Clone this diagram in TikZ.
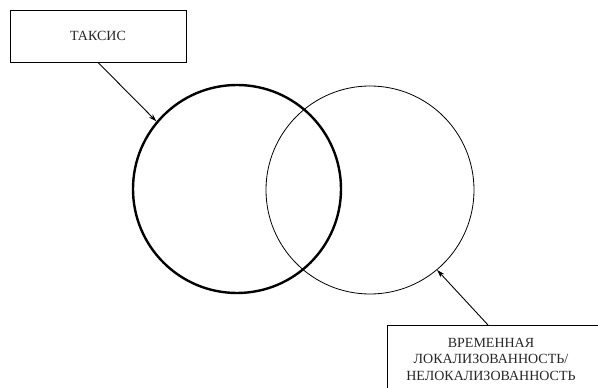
\documentclass[tikz,border=0pt]{standalone}
\usepackage{fontspec}
\setmainfont{Liberation Serif}
\usepackage{tikz}
\usetikzlibrary{positioning, arrows.meta}

\begin{document}
\begin{tikzpicture}[
    x=1pt, y=1pt,
    >={Stealth[length=8pt, width=5pt]},
    ptr/.style={->, line width=0.9pt},
    boxline/.style={draw, line width=0.9pt},
    labeltext/.style={align=center, text=black!85, font=\fontsize{14}{16.5}\selectfont},
    set/.style={circle, draw, minimum size=208pt, inner sep=0pt}
]

% Page frame
\useasboundingbox (0, 0) rectangle (598, 388);

% The two sets
\node[set, line width=2.4pt] (taxis) at (237, 199) {};
\node[set, line width=0.8pt] (loc) at (370, 198) {};

% Label boxes
\node[labeltext, boxline, minimum width=176pt, minimum height=52pt] (taxislabel) at (98, 352) {ТАКСИС};
\node[labeltext] (loclabel) at (491, 29)
    {ВРЕМЕННАЯ\\ЛОКАЛИЗОВАННОСТЬ/\\НЕЛОКАЛИЗОВАННОСТЬ};
% frame of the lower box runs off the page
\draw[boxline] ([xshift=-104pt, yshift=34pt]loclabel.center) rectangle ++(240pt, -80pt);

% Pointers from the boxes to the circles
\coordinate (locfoot) at ([xshift=-3pt, yshift=34pt]loclabel.center);
\draw[ptr] (taxislabel.south) -- (taxis.140);
\draw[ptr] (locfoot) -- (loc.310);

\end{tikzpicture}
\end{document}
